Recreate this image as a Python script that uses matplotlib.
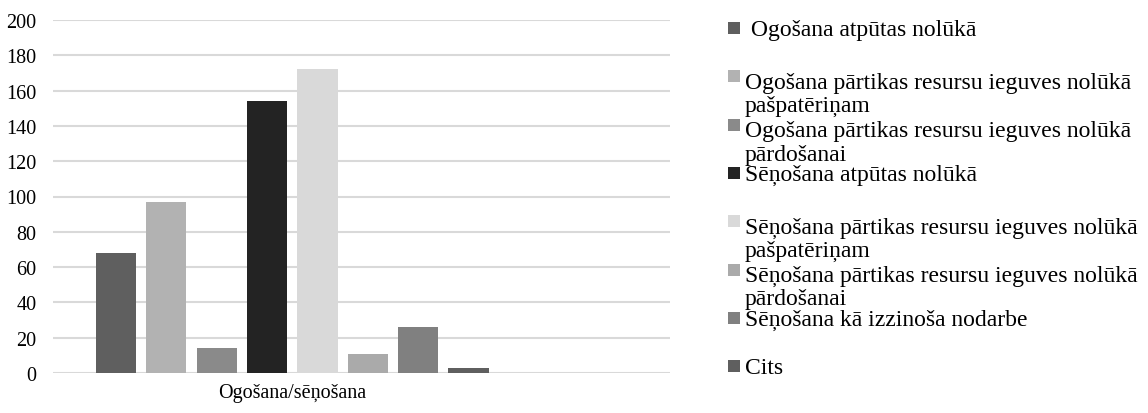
import matplotlib
matplotlib.use("Agg")
import matplotlib.pyplot as plt
from matplotlib.patches import Rectangle

plt.rcParams['font.family'] = ['Liberation Serif', 'DejaVu Serif']

category = 'Ogošana/sēņošana'
labels = [
    ' Ogošana atpūtas nolūkā',
    'Ogošana pārtikas resursu ieguves nolūkā\npašpatēriņam',
    'Ogošana pārtikas resursu ieguves nolūkā\npārdošanai',
    'Sēņošana atpūtas nolūkā',
    'Sēņošana pārtikas resursu ieguves nolūkā\npašpatēriņam',
    'Sēņošana pārtikas resursu ieguves nolūkā\npārdošanai',
    'Sēņošana kā izzinoša nodarbe',
    'Cits',
]
values = [68, 97, 14, 154, 172, 11, 26, 3]
colors = ['#5f5f5f', '#b2b2b2', '#8a8a8a', '#232323',
          '#d9d9d9', '#aaaaaa', '#808080', '#5f5f5f']

W, H = 1148, 414
fig = plt.figure(figsize=(W / 100, H / 100), dpi=100)
ax = fig.add_axes([53 / W, 1 - 374 / H, (670 - 53) / W, (374 - 21) / H])

bars = ax.bar(range(len(values)), values, width=0.8, color=colors, zorder=3)

ax.set_ylim(0, 200)
ax.set_yticks(range(0, 201, 20))
ax.set_xlim(-1.25, 11.0)
ax.set_xticks([(len(values) - 1) / 2])
ax.set_xticklabels([category])
ax.tick_params(axis='both', length=0, labelsize=14.5)
ax.tick_params(axis='y', pad=12)
ax.tick_params(axis='x', pad=7)
ax.grid(axis='y', color='#d9d9d9', linewidth=1.5, zorder=0)
for s in ax.spines.values():
    s.set_visible(False)

# legend drawn by hand, entries on a fixed step like the original
# (wrapped second lines run into the next entry, as in the source)
row0 = 29
step = 48.3
line_gap = 28
for i, (lab, b) in enumerate(zip(labels, bars)):
    yc = row0 + i * step
    fig.add_artist(Rectangle((728 / W, 1 - (yc + 6) / H), 12 / W, 12 / H,
                             transform=fig.transFigure,
                             color=b.get_facecolor(), linewidth=0))
    n_extra = lab.count('\n')
    # baseline alignment uses the last line, so shift down per extra line
    fig.text(745 / W, 1 - (yc + 7 + n_extra * line_gap) / H, lab,
             fontsize=17, va='baseline', ha='left', linespacing=1.16)

fig.savefig('out.png', dpi=100)
